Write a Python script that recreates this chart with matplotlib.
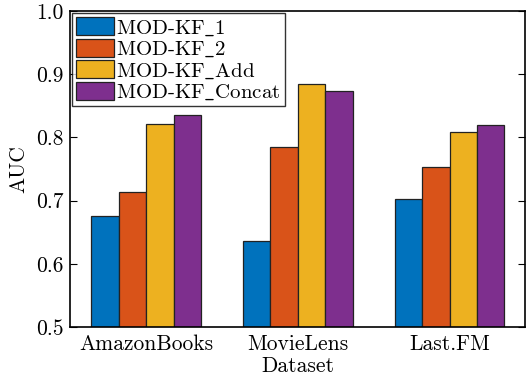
import matplotlib
matplotlib.use('Agg')
import matplotlib.pyplot as plt
import numpy as np

# AUC per dataset for each MOD-KF variant
datasets = ['AmazonBooks', 'MovieLens', 'Last.FM']
methods = [r'MOD-KF$\_$1', r'MOD-KF$\_$2', r'MOD-KF$\_$Add', r'MOD-KF$\_$Concat']
auc_kf1 = [0.676, 0.636, 0.702]
auc_kf2 = [0.714, 0.785, 0.754]
auc_add = [0.822, 0.884, 0.809]
auc_concat = [0.836, 0.873, 0.820]
colors = ['#0072BD', '#D95319', '#EDB120', '#7E2F8E']

plt.rcParams['font.family'] = ['cmr10', 'DejaVu Serif']
plt.rcParams['mathtext.fontset'] = 'cm'
plt.rcParams['axes.formatter.use_mathtext'] = True

fig = plt.figure(figsize=(5.28, 3.8), dpi=100)
ax = fig.add_axes([0.133, 0.139, 0.862, 0.832])

x = np.arange(1, len(datasets) + 1)
width = 0.181
series = [auc_kf1, auc_kf2, auc_add, auc_concat]
for i, vals in enumerate(series):
    offs = (i - 1.5) * width
    ax.bar(x + offs, vals, width, color=colors[i], edgecolor='#222222',
           linewidth=0.9, label=methods[i])

ax.set_xlim(0.5, 3.5)
ax.set_ylim(0.5, 1.0)
ax.set_yticks([0.5, 0.6, 0.7, 0.8, 0.9, 1.0])
ax.set_yticklabels(['0.5', '0.6', '0.7', '0.8', '0.9', '1.0'])
ax.set_xticks(x)
ax.set_xticklabels(datasets)
ax.tick_params(axis='y', direction='in', right=True, length=5, labelsize=15.5, pad=5)
ax.tick_params(axis='x', length=0, labelsize=15.5, pad=5)
for sp in ax.spines.values():
    sp.set_linewidth(1.2)

ax.set_ylabel('AUC', fontsize=15.5, labelpad=5)
ax.set_xlabel('Dataset', fontsize=15.5, labelpad=2)

leg = ax.legend(loc='upper left', fontsize=15, frameon=True, fancybox=False,
                borderaxespad=0.1, handlelength=1.8, handleheight=0.95,
                handletextpad=0.1, labelspacing=0.05, borderpad=0.2)
leg.get_frame().set_edgecolor('black')
leg.get_frame().set_linewidth(1.0)

fig.savefig('out.png', dpi=100)
